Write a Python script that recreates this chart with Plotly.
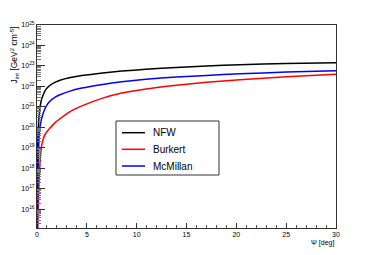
import plotly.graph_objects as go

# angle psi [deg]
psi = [0, 0.03, 0.05, 0.07, 0.1, 0.13, 0.17, 0.23, 0.33, 0.4, 0.47, 0.74, 0.9, 1.24,
       1.9, 2.24, 3.24, 4.5, 6.59, 8.5, 10.93, 14, 17, 20.36, 25, 30]

# log10 of J_int [GeV^2 cm^-5]
log_nfw = [14.0, 18.0, 18.7, 19.15, 19.62, 19.96, 20.3, 20.66, 21.05, 21.24, 21.38, 21.72,
           21.86, 22.03, 22.22, 22.29, 22.42, 22.53, 22.66, 22.75, 22.84, 22.93, 23.0,
           23.06, 23.12, 23.16]
log_burkert = [12.0, 13.8, 14.8, 15.23, 15.8, 16.3, 16.86, 17.65, 18.45, 18.85, 19.12, 19.6,
               19.73, 19.93, 20.27, 20.4, 20.75, 21.05, 21.43, 21.68, 21.88, 22.06, 22.2,
               22.33, 22.47, 22.59]
log_mcmillan = [12.0, 14.0, 15.3, 16.4, 17.6, 18.4, 19.1, 19.75, 20.12, 20.3, 20.45, 20.85,
                21.02, 21.25, 21.5, 21.58, 21.76, 21.92, 22.1, 22.23, 22.35, 22.46, 22.54,
                22.62, 22.7, 22.77]

names = ["NFW", "Burkert", "McMillan"]
colors = ["#000000", "#ff0000", "#0000ff"]
series = [log_nfw, log_burkert, log_mcmillan]

y_major = [10.0 ** k for k in range(16, 26)]
y_labels = [f"10<sup>{k}</sup>" for k in range(16, 26)]
y_minor = [float(m) * 10.0 ** k for k in range(15, 25) for m in range(2, 10)]
x_major = [0, 5, 10, 15, 20, 25, 30]

FONT = "Liberation Sans, Arial, Helvetica, sans-serif"

fig = go.Figure()
for nm, col, ys in zip(names, colors, series):
    fig.add_trace(go.Scatter(
        x=psi, y=[10.0 ** v for v in ys], mode="lines", name=nm,
        line=dict(color=col, width=1.5, shape="spline", smoothing=0.5),
        showlegend=False))

# page body has an 8px margin; target plot area: x 37..336, y 25..228 in window
OFF = 8
W, H = 374 - OFF, 255 - OFF
L, T = 37 - OFF, 25 - OFF
R = W - (336 - OFF)
B = H - (228 - OFF)
pw, ph = W - L - R, H - T - B

def px(xp):
    return (xp - 37) / pw

def py(yp):
    return 1 - (yp - 25) / ph

shapes = [dict(type="rect", xref="paper", yref="paper",
               x0=px(116), x1=px(219), y0=py(175), y1=py(121),
               line=dict(color="#333333", width=1), fillcolor="white", layer="above")]
annotations = []
rows_y = [132.7, 149.3, 166]
for nm, col, yy in zip(names, colors, rows_y):
    shapes.append(dict(type="line", xref="paper", yref="paper",
                       x0=px(122), x1=px(145), y0=py(yy), y1=py(yy),
                       line=dict(color=col, width=1.5), layer="above"))
    annotations.append(dict(xref="paper", yref="paper", x=px(151), y=py(yy),
                            xanchor="left", yanchor="middle", showarrow=False,
                            text=nm, font=dict(size=10, color="#000000", family=FONT)))

annotations.append(dict(xref="paper", yref="paper", x=px(14), y=1.0,
                        xanchor="center", yanchor="top", textangle=-90, showarrow=False,
                        text="J<sub>int</sub> [GeV<sup>2</sup> cm<sup>-5</sup>]",
                        font=dict(size=8.5, color="#000000", family=FONT)))
annotations.append(dict(xref="paper", yref="paper", x=1.0, y=py(243),
                        xanchor="right", yanchor="middle", showarrow=False,
                        text="Ψ [deg]", font=dict(size=7, color="#000000", family=FONT)))

fig.update_layout(
    width=W, height=H,
    margin=dict(l=L, r=R, t=T, b=B, pad=0, autoexpand=False),
    paper_bgcolor="white", plot_bgcolor="white",
    font=dict(family=FONT, size=7, color="#000000"),
    shapes=shapes, annotations=annotations,
    xaxis=dict(range=[0, 30], tickmode="array", tickvals=x_major, automargin=False,
               ticks="inside", ticklen=5, tickcolor="#333333", tickwidth=1,
               minor=dict(ticks="inside", ticklen=3, dtick=1, tickcolor="#555555"),
               showline=True, linecolor="#333333", linewidth=1, mirror=True,
               showgrid=False, zeroline=False, tickfont=dict(size=7)),
    yaxis=dict(type="log", range=[15.09, 25], tickmode="array", automargin=False,
               tickvals=y_major, ticktext=y_labels,
               ticks="inside", ticklen=8, tickcolor="#333333", tickwidth=1,
               minor=dict(ticks="inside", ticklen=4, tickmode="array", tickvals=y_minor,
                          tickcolor="#777777"),
               showline=True, linecolor="#333333", linewidth=1, mirror=True,
               showgrid=False, zeroline=False, tickfont=dict(size=7)),
)

fig.write_html("out.html")
